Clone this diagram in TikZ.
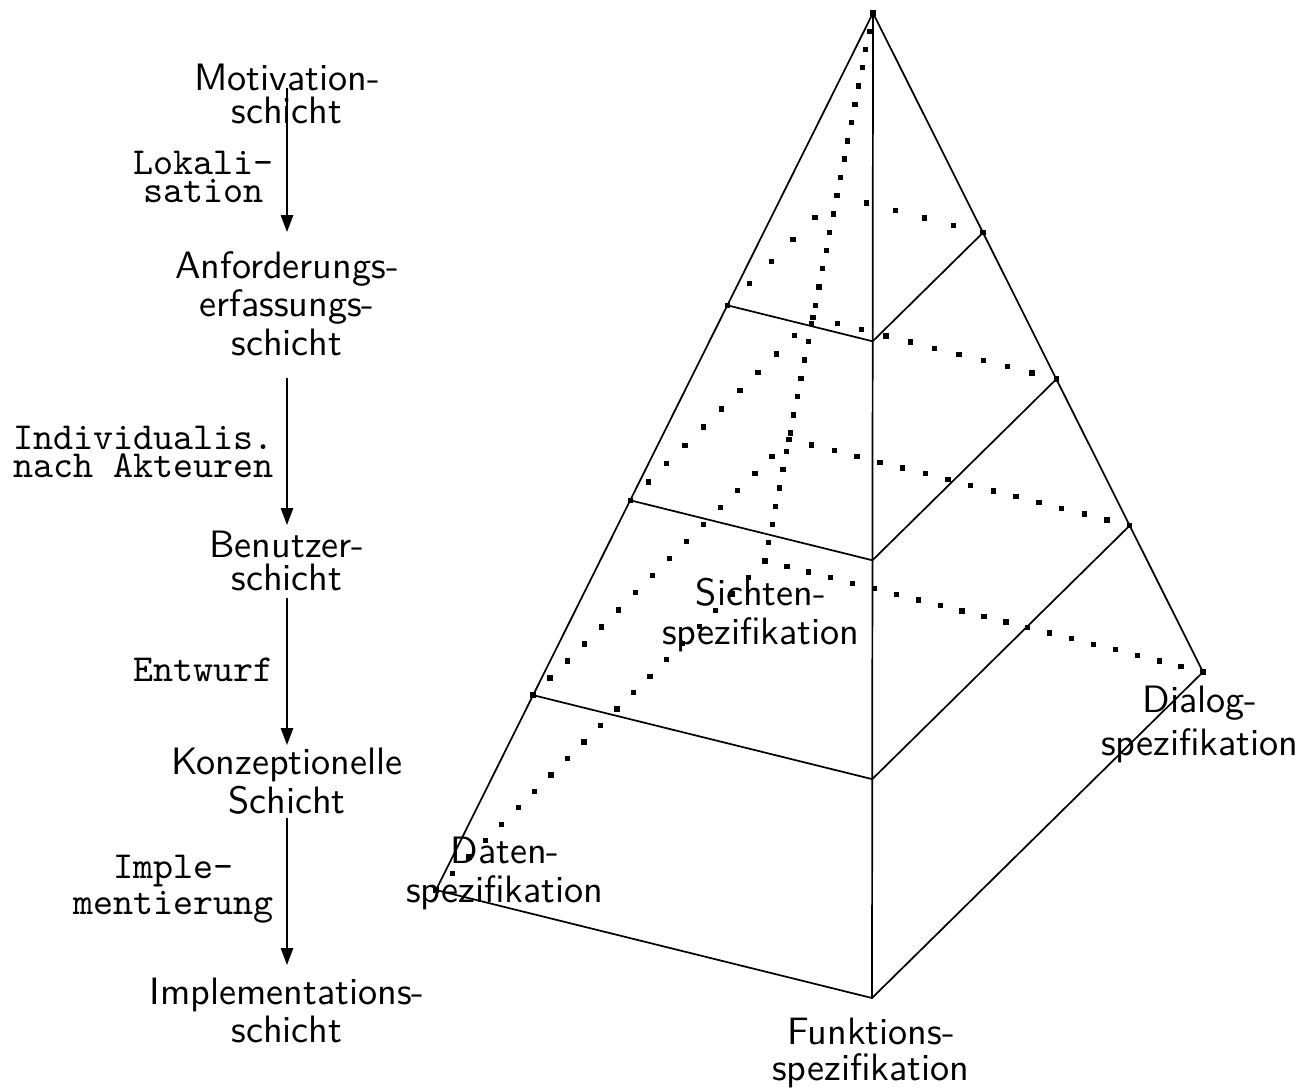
\documentclass[tikz,border=0pt]{standalone}
\usetikzlibrary{calc,arrows.meta}
% hidden edge: square dots from #1 to #2 with #3 gaps
\newcommand{\hiddenedge}[3]{%
  \foreach \k in {0,...,#3}
    \fill ($(#1)!\k/#3!(#2)$) +(-0.7pt,-0.7pt) rectangle +(0.7pt,0.7pt);}

\begin{document}
\begin{tikzpicture}[x=0.262pt,y=-0.262pt,
    layer/.style={font=\sffamily\fontsize{10}{8.6}\selectfont, align=center, inner sep=0pt, anchor=base},
    trans/.style={font=\ttfamily\fontsize{10}{7.3}\selectfont, align=center, anchor=east},
    spec/.style={font=\sffamily\fontsize{10}{10}\selectfont, align=center, inner sep=0pt, anchor=base},
    solidline/.style={line width=0.45pt},
    flow/.style={line width=0.45pt, -{Triangle[length=4.4pt,width=3.2pt]}}]
  \useasboundingbox (0,0) rectangle (1312,1091);

  % layers (base = last line)
  \node[layer] (mot) at (287,123)  {Motivation-\\schicht};
  \node[layer] (anf) at (287,355)  {Anforderungs-\\erfassungs-\\schicht};
  \node[layer] (ben) at (287,590)  {Benutzer-\\schicht};
  \node[layer] (kon) at (287,813)  {Konzeptionelle\\Schicht};
  \node[layer] (imp) at (287,1042) {Implementations-\\schicht};

  \coordinate (s1) at (287,88);  \coordinate (e1) at (287,232);
  \coordinate (s2) at (287,378); \coordinate (e2) at (287,525);
  \coordinate (s3) at (287,598); \coordinate (e3) at (287,745);
  \coordinate (s4) at (287,818); \coordinate (e4) at (287,965);
  \draw[flow] (s1) -- (e1);
  \draw[flow] (s2) -- (e2);
  \draw[flow] (s3) -- (e3);
  \draw[flow] (s4) -- (e4);

  \node[trans] (lok) at (287,177) {Lokali-\\sation};
  \node[trans] (ind) at (287,452) {Individualis.\\nach Akteuren};
  \node[trans] (ent) at (287,670) {Entwurf};
  \node[trans] (iml) at (287,889) {Imple-\\mentierung};

  % pyramid
  \coordinate (A) at (873,13);
  \coordinate (L) at (436,890);
  \coordinate (F) at (872,998);
  \coordinate (R) at (1203,672);
  \coordinate (B) at (765,561);

  \draw[solidline] (L) -- (A) -- (R) -- (F) -- cycle;
  \draw[solidline] (A) -- (F);
  \hiddenedge{A}{B}{30}
  \hiddenedge{L}{B}{20}
  \hiddenedge{B}{R}{20}

  \foreach \f/\n [count=\i] in {0.3333/5, 0.5556/10, 0.7778/15} {
    \coordinate (l\i) at ($(A)!\f!(L)$);
    \coordinate (f\i) at ($(A)!\f!(F)$);
    \coordinate (r\i) at ($(A)!\f!(R)$);
    \coordinate (b\i) at ($(A)!\f!(B)$);
    \draw[solidline] (l\i) -- (f\i) -- (r\i);
    \hiddenedge{l\i}{b\i}{\n}
    \hiddenedge{b\i}{r\i}{\n}
  }

  \node[spec] (dat) at (505,902)   {Daten-\\spezifikation};
  \node[spec] (sic) at (761,644)   {Sichten-\\spezifikation};
  \node[spec] (fun) at (871,1080)  {Funktions-\\[-0.8pt]spezifikation};
  \node[spec] (dia) at (1200,755)  {Dialog-\\[1.2pt]spezifikation};
\end{tikzpicture}
\end{document}
